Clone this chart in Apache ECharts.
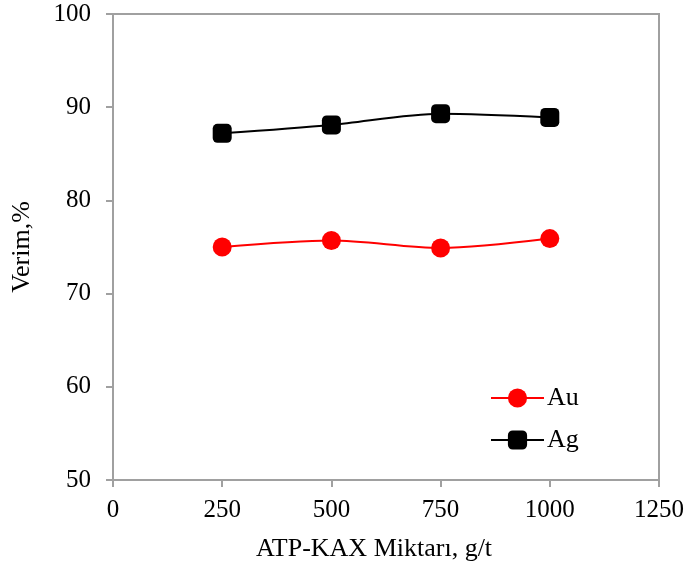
<!DOCTYPE html>
<html><head><meta charset="utf-8">
<script src="https://cdn.jsdelivr.net/npm/echarts@6/dist/echarts.min.js"></script>
<style>html,body{margin:0;padding:0;background:#fff}#c{width:687px;height:570px}</style>
</head><body><div id="c"></div>
<script>
var xValues = [250, 500, 750, 1000];
var auValues = [75.0, 75.7, 74.9, 75.9];
var agValues = [87.2, 88.1, 89.3, 88.9];
var seriesNames = ['Au', 'Ag'];

var font = 'Liberation Serif';
var axisColor = '#a0a0a0';
var chart = echarts.init(document.getElementById('c'));
function pairs(v){ return xValues.map(function(x,i){return [x, v[i]];}); }
chart.setOption({
  animation: false,
  backgroundColor: '#fff',
  grid: {left: 113, right: 28, top: 14, bottom: 90, show: true, borderColor: axisColor, borderWidth: 2},
  legend: {
    orient: 'vertical', left: 485, top: 380, itemGap: 16, itemWidth: 53, itemHeight: 24,
    textStyle: {fontFamily: font, fontSize: 26, color: '#000', padding: [0,0,0,-2]},
    data: seriesNames
  },
  xAxis: {
    type: 'value', min: 0, max: 1250, interval: 250,
    name: 'ATP-KAX Miktarı, g/t', nameLocation: 'middle', nameGap: 56,
    nameTextStyle: {fontFamily: font, fontSize: 26, color: '#000', padding: [0, 24, 0, 0]},
    axisLine: {lineStyle: {color: axisColor, width: 2}},
    axisTick: {show: true, inside: false, length: 7, lineStyle: {color: axisColor, width: 2}},
    axisLabel: {fontFamily: font, fontSize: 25, color: '#000', margin: 18, formatter: function(v){return String(v);}},
    splitLine: {show: false}
  },
  yAxis: {
    type: 'value', min: 50, max: 100, interval: 10,
    name: 'Verim,%', nameLocation: 'middle', nameGap: 78,
    nameTextStyle: {fontFamily: font, fontSize: 26, color: '#000'},
    axisLine: {show: true, lineStyle: {color: axisColor, width: 2}},
    axisTick: {show: true, inside: false, length: 7, lineStyle: {color: axisColor, width: 2}},
    axisLabel: {fontFamily: font, fontSize: 25, color: '#000', margin: 22},
    splitLine: {show: false}
  },
  series: [
    {name: seriesNames[0], type: 'line', data: pairs(auValues), smooth: 0.3,
     symbol: 'circle', symbolSize: 19,
     itemStyle: {color: '#ff0000'}, lineStyle: {color: '#ff0000', width: 2}},
    {name: seriesNames[1], type: 'line', data: pairs(agValues), smooth: 0.3,
     symbol: 'roundRect', symbolSize: 19,
     itemStyle: {color: '#000000'}, lineStyle: {color: '#000000', width: 2}}
  ]
});
</script></body></html>
